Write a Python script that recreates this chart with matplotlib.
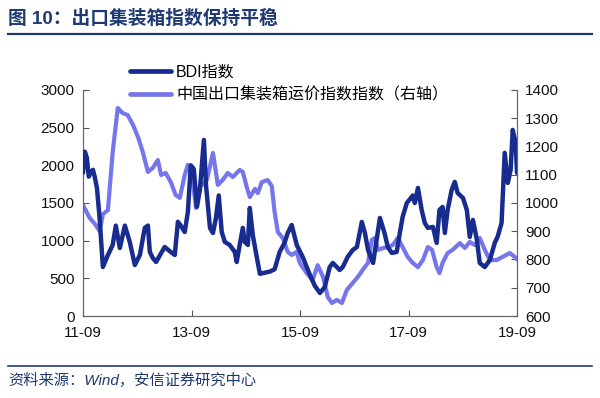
import matplotlib
matplotlib.use("Agg")
import matplotlib.pyplot as plt
import pandas as pd

plt.rcParams['font.family'] = ['Liberation Sans', 'Noto Sans CJK SC', 'DejaVu Sans']

title_text = "图 10：出口集装箱指数保持平稳"
source_text = "资料来源：Wind，安信证券研究中心"
bdi_label = "BDI指数"
ccfi_label = "中国出口集装箱运价指数指数（右轴）"

bdi_dates = [
    "2011-09-01", "2011-09-14", "2011-09-27", "2011-10-10", "2011-10-22", "2011-11-07",
    "2011-11-19", "2011-12-04", "2011-12-22", "2012-01-13", "2012-02-16", "2012-03-19",
    "2012-04-09", "2012-05-06", "2012-06-09", "2012-07-12", "2012-08-15", "2012-09-18",
    "2012-10-21", "2012-11-11", "2012-11-24", "2012-12-14", "2013-01-05", "2013-02-01",
    "2013-03-04", "2013-04-14", "2013-05-11", "2013-06-01", "2013-06-20", "2013-07-17",
    "2013-08-07", "2013-08-27", "2013-09-16", "2013-10-07", "2013-10-27", "2013-11-23",
    "2013-12-07", "2014-01-03", "2014-01-23", "2014-02-12", "2014-03-03", "2014-03-23",
    "2014-04-13", "2014-05-16", "2014-06-19", "2014-07-02", "2014-07-22", "2014-08-12",
    "2014-08-25", "2014-09-15", "2014-09-28", "2014-10-18", "2014-11-15", "2014-12-05",
    "2015-01-08", "2015-02-11", "2015-03-14", "2015-04-17", "2015-05-20", "2015-06-10",
    "2015-07-07", "2015-08-10", "2015-09-19", "2015-11-07", "2015-12-10", "2016-01-13",
    "2016-02-15", "2016-03-19", "2016-04-09", "2016-05-25", "2016-06-15", "2016-07-18",
    "2016-08-21", "2016-09-18", "2016-10-21", "2016-11-11", "2016-12-02", "2017-01-05",
    "2017-02-20", "2017-03-23", "2017-04-14", "2017-05-11", "2017-06-13", "2017-07-04",
    "2017-07-23", "2017-08-20", "2017-09-10", "2017-09-29", "2017-10-13", "2017-11-03",
    "2017-11-28", "2017-12-19", "2018-01-09", "2018-02-12", "2018-03-09", "2018-03-28",
    "2018-04-18", "2018-05-03", "2018-05-22", "2018-06-18", "2018-07-09", "2018-07-28",
    "2018-09-02", "2018-09-28", "2018-10-18", "2018-11-08", "2018-12-05", "2018-12-24",
    "2019-01-27", "2019-03-02", "2019-04-04", "2019-04-23", "2019-05-20", "2019-06-10",
    "2019-07-01", "2019-07-20", "2019-08-03", "2019-08-23", "2019-09-01",
]
bdi_values = [
    1900, 2180, 2100, 1850, 1900, 1940,
    1850, 1700, 1300, 650, 810, 943,
    1200, 903, 1200, 983, 677, 810,
    1169, 1200, 850, 770, 717, 810,
    916, 850, 810, 1250, 1200, 1115,
    1380, 2000, 1950, 1450, 1673, 2337,
    1740, 1169, 1102, 1300, 1600, 1115,
    983, 943, 850, 717, 943, 1169,
    983, 943, 1434, 1076, 770, 560,
    575, 590, 620, 850, 970, 1100,
    1208, 943, 784, 544, 400, 305,
    385, 650, 704, 611, 650, 784,
    876, 916, 1248, 1102, 876, 704,
    1301, 1102, 916, 837, 850, 1102,
    1315, 1500, 1550, 1600, 1500, 1700,
    1408, 1235, 1169, 1182, 970, 1408,
    1447, 1102, 1408, 1673, 1780, 1633,
    1567, 1408, 1049, 1275, 1009, 704,
    650, 743, 970, 1049, 1235, 2165,
    1766, 1939, 2470, 2297, 1900,
]

ccfi_dates = [
    "2011-09-01", "2011-10-16", "2011-11-26", "2011-12-22", "2012-01-13", "2012-02-16",
    "2012-03-19", "2012-04-22", "2012-05-25", "2012-06-28", "2012-08-03", "2012-09-05",
    "2012-10-08", "2012-11-11", "2012-12-14", "2013-01-17", "2013-02-08", "2013-03-11",
    "2013-04-14", "2013-05-17", "2013-06-14", "2013-07-17", "2013-08-07", "2013-09-10",
    "2013-10-01", "2013-10-27", "2013-12-13", "2014-01-23", "2014-02-25", "2014-03-29",
    "2014-05-03", "2014-06-06", "2014-07-22", "2014-08-12", "2014-09-09", "2014-09-28",
    "2014-11-02", "2014-11-21", "2014-12-18", "2015-01-27", "2015-02-23", "2015-03-14",
    "2015-04-05", "2015-05-08", "2015-06-10", "2015-07-07", "2015-08-10", "2015-08-30",
    "2015-10-16", "2015-11-25", "2015-12-29", "2016-02-03", "2016-03-06", "2016-04-03",
    "2016-05-06", "2016-06-09", "2016-07-12", "2016-08-21", "2016-09-24", "2016-10-27",
    "2016-12-02", "2016-12-27", "2017-01-17", "2017-02-08", "2017-03-11", "2017-04-14",
    "2017-05-17", "2017-06-20", "2017-07-23", "2017-08-26", "2017-09-29", "2017-11-03",
    "2017-12-06", "2018-01-09", "2018-02-06", "2018-03-09", "2018-03-28", "2018-04-18",
    "2018-05-22", "2018-06-24", "2018-08-12", "2018-09-15", "2018-10-18", "2018-11-22",
    "2018-12-24", "2019-01-27", "2019-03-02", "2019-04-17", "2019-05-26", "2019-07-14",
    "2019-08-17", "2019-09-01",
]
ccfi_values = [
    993, 947, 922, 900, 960, 975,
    1180, 1336, 1318, 1311, 1276, 1234,
    1180, 1110, 1124, 1152, 1099, 1106,
    1074, 1028, 1018, 1099, 1135, 1074,
    982, 1057, 1081, 1177, 1064, 1081,
    1106, 1092, 1117, 1110, 1053, 1021,
    1050, 1035, 1074, 1081, 1060, 968,
    897, 876, 827, 816, 827, 788,
    752, 727, 780, 738, 667, 646,
    657, 646, 692, 717, 738, 763,
    788, 869, 876, 834, 840, 844,
    851, 876, 844, 809, 788, 773,
    798, 844, 834, 773, 752, 788,
    823, 834, 858, 841, 862, 851,
    876, 834, 798, 798, 809, 823,
    809, 800,
]

x_tick_dates = ["2011-09-01", "2013-09-01", "2015-09-01", "2017-09-01", "2019-09-01"]
x_tick_labels = ["11-09", "13-09", "15-09", "17-09", "19-09"]
left_ticks = [0, 500, 1000, 1500, 2000, 2500, 3000]
right_ticks = [600, 700, 800, 900, 1000, 1100, 1200, 1300, 1400]

dark = "#172C8E"
light = "#7676EC"
navy = "#1F3A72"

fig = plt.figure(figsize=(6.0, 3.98), dpi=100)
ax = fig.add_axes([0.1383, 0.206, 0.7234, 0.568])
ax2 = ax.twinx()

bdi_x = pd.to_datetime(bdi_dates)
ccfi_x = pd.to_datetime(ccfi_dates)

l2, = ax2.plot(ccfi_x, ccfi_values, color=light, lw=3.0, solid_joinstyle="round",
               solid_capstyle="round", zorder=2)
l1, = ax.plot(bdi_x, bdi_values, color=dark, lw=3.2, solid_joinstyle="round",
              solid_capstyle="round", zorder=3)
ax.set_zorder(ax2.get_zorder() + 1)
ax.patch.set_visible(False)

xt = pd.to_datetime(x_tick_dates)
ax.set_xlim(xt[0], xt[-1])
ax.set_xticks(xt)
ax.set_xticklabels(x_tick_labels)
ax.set_ylim(0, 3000)
ax.set_yticks(left_ticks)
ax2.set_ylim(600, 1400)
ax2.set_yticks(right_ticks)

for a in (ax, ax2):
    a.tick_params(direction="in", length=4, width=0.8, color="#555555",
                  labelsize=11, labelcolor="#111111")
    for s in a.spines.values():
        s.set_color("#666666")
        s.set_linewidth(0.8)
    a.spines["top"].set_visible(False)
ax.tick_params(axis="x", pad=7)
ax.tick_params(axis="y", pad=6)
ax2.tick_params(axis="y", pad=6)

leg = ax.legend([l1, l2], [bdi_label, ccfi_label], loc="upper left",
                bbox_to_anchor=(0.093, 1.14), frameon=False, fontsize=11.5,
                handlelength=2.6, handletextpad=0.3, labelspacing=0.5,
                borderaxespad=0)
leg.get_lines()[0].set_linewidth(3.4)
leg.get_lines()[1].set_linewidth(3.4)

fig.text(0.013, 0.952, title_text, fontsize=13.5, fontweight="bold", color=navy,
         ha="left", va="center")
fig.add_artist(plt.Line2D([0.013, 0.987], [0.915, 0.915], color=navy, lw=1.6))
fig.add_artist(plt.Line2D([0.013, 0.987], [0.080, 0.080], color=navy, lw=1.2))
fig.text(0.013, 0.044, source_text, fontsize=11, style="italic", color=navy,
         ha="left", va="center")

fig.savefig("out.png", dpi=100)
